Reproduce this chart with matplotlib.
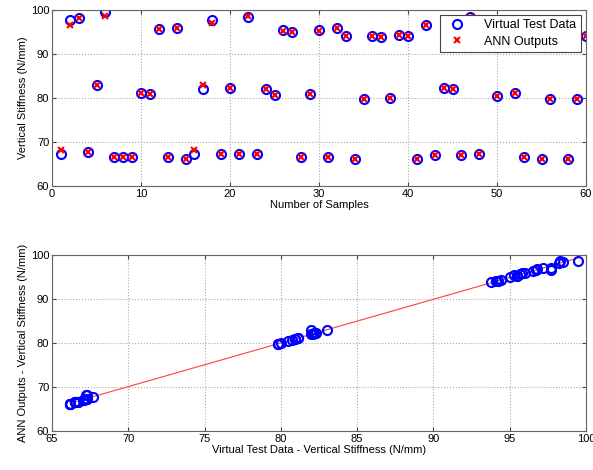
import numpy as np
import matplotlib
matplotlib.use('Agg')
import matplotlib.pyplot as plt

plt.rcParams['font.family'] = ['Liberation Sans', 'DejaVu Sans']

# sample index 1..60
samples = np.arange(1, 61)

# virtual test data (vertical stiffness, N/mm)
virtual = [67.3, 97.7, 98.2, 67.7, 83.0, 99.5, 66.5, 66.5, 66.7, 81.1,
           80.9, 95.7, 66.7, 96.0, 66.2, 67.2, 82.0, 97.7, 67.2, 82.3,
           67.2, 98.3, 67.2, 82.1, 80.7, 95.5, 95.0, 66.5, 80.9, 95.5,
           66.5, 95.8, 94.1, 66.2, 79.8, 94.2, 93.8, 80.0, 94.4, 94.2,
           66.2, 96.7, 67.0, 82.2, 82.0, 67.1, 98.5, 67.3, 96.8, 80.5,
           97.2, 81.1, 66.5, 95.3, 66.2, 79.8, 96.5, 66.2, 79.8, 94.1]

# ANN outputs
ann = [68.2, 96.7, 98.2, 67.7, 83.0, 98.7, 66.5, 66.5, 66.7, 81.1,
       80.9, 95.7, 66.7, 96.0, 66.2, 68.2, 82.9, 97.1, 67.2, 82.3,
       67.2, 98.6, 67.2, 82.1, 80.7, 95.2, 95.0, 66.5, 80.9, 95.2,
       66.5, 95.8, 94.1, 66.2, 79.8, 94.2, 93.8, 80.0, 94.4, 94.2,
       66.2, 96.7, 67.0, 82.2, 82.0, 67.1, 98.5, 67.3, 96.9, 80.5,
       97.0, 81.1, 66.5, 95.4, 66.2, 79.8, 96.3, 66.2, 79.8, 94.1]

virtual = np.array(virtual)
ann = np.array(ann)

fig = plt.figure(figsize=(5.93, 4.70), dpi=100)
ax1 = fig.add_axes([52/593, 1-186/470, 534/593, 176/470])
ax2 = fig.add_axes([52/593, 1-431/470, 534/593, 176/470])

grid_kw = dict(color='#aaaaaa', linestyle=':', linewidth=0.8)

ax1.plot(samples, virtual, 'o', mfc='none', mec='blue', mew=1.5, ms=6.5, label='Virtual Test Data')
ax1.plot(samples, ann, 'x', color='red', mew=1.5, ms=5, label='ANN Outputs')
ax1.set_xlim(0, 60)
ax1.set_ylim(60, 100)
ax1.set_xticks(range(0, 61, 10))
ax1.set_yticks(range(60, 101, 10))
ax1.grid(True, **grid_kw)
ax1.set_xlabel('Number of Samples', fontsize=8, labelpad=1)
ax1.set_ylabel('Vertical Stiffness (N/mm)', fontsize=8, labelpad=2)
leg = ax1.legend(loc='upper right', fontsize=9, framealpha=1, fancybox=False,
                 edgecolor='#444444', borderaxespad=0.4, handletextpad=1.2,
                 borderpad=0.35, labelspacing=0.35)
leg.get_frame().set_linewidth(0.8)

# linear fit between virtual data and ANN outputs
p = np.polyfit(virtual, ann, 1)
xf = np.array([virtual.min(), virtual.max()])
ax2.plot(xf, np.polyval(p, xf), '-', color='#ff4040', linewidth=0.8)
ax2.plot(virtual, ann, 'o', mfc='none', mec='blue', mew=1.5, ms=6.5)
ax2.set_xlim(65, 100)
ax2.set_ylim(60, 100)
ax2.set_xticks(range(65, 101, 5))
ax2.set_yticks(range(60, 101, 10))
ax2.grid(True, **grid_kw)
ax2.set_xlabel('Virtual Test Data - Vertical Stiffness (N/mm)', fontsize=8, labelpad=1)
ax2.set_ylabel('ANN Outputs - Vertical Stiffness (N/mm)', fontsize=8, labelpad=2)

for ax in (ax1, ax2):
    ax.tick_params(labelsize=8, direction='in', length=3, color='#444444', pad=2,
                   top=True, right=True)
    for s in ax.spines.values():
        s.set_color('#666666')
        s.set_linewidth(0.8)

fig.savefig('out.png', dpi=100)
